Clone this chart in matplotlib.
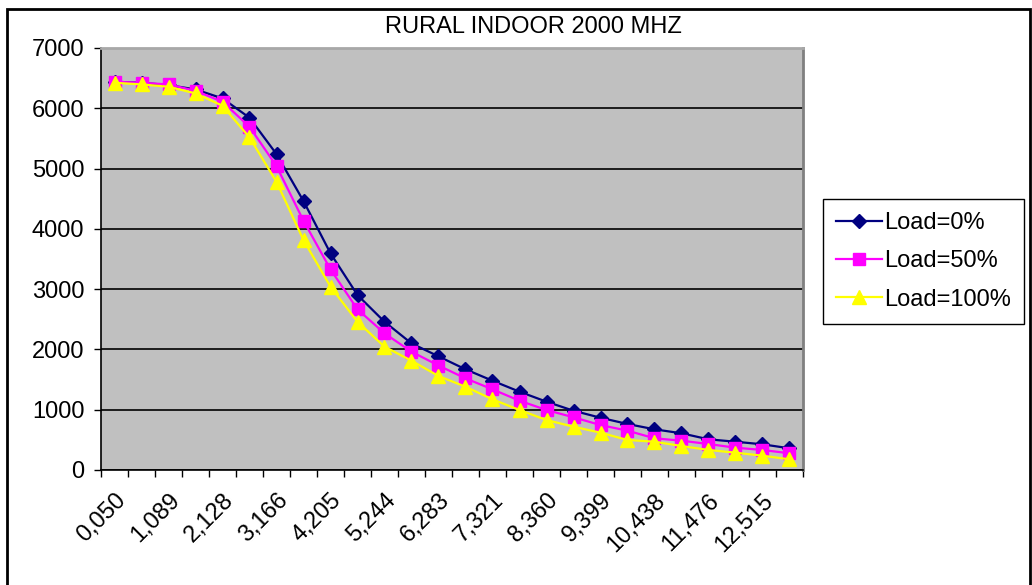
import matplotlib
matplotlib.use("Agg")
import matplotlib.pyplot as plt
from matplotlib.patches import Rectangle

plt.rcParams['font.family'] = ['Liberation Sans', 'DejaVu Sans']

categories = ["0,050", "0,569", "1,089", "1,608", "2,128", "2,647", "3,166", "3,686",
              "4,205", "4,725", "5,244", "5,763", "6,283", "6,802", "7,321", "7,841",
              "8,360", "8,880", "9,399", "9,918", "10,438", "10,957", "11,476", "11,996",
              "12,515", "13,035"]

load_0 = [6440, 6423, 6385, 6313, 6164, 5843, 5240, 4461, 3594, 2902, 2459, 2100,
          1885, 1670, 1481, 1299, 1133, 983, 867, 763, 675, 609, 509, 469, 426, 360]
load_50 = [6440, 6423, 6396, 6290, 6108, 5693, 5041, 4134, 3328, 2665, 2267, 1962,
           1733, 1520, 1338, 1149, 995, 874, 746, 652, 526, 486, 431, 370, 332, 277]
load_100 = [6423, 6396, 6357, 6247, 6042, 5517, 4781, 3814, 3040, 2459, 2045, 1813,
            1559, 1381, 1172, 995, 829, 718, 619, 498, 469, 398, 332, 287, 237, 177]

series_names = ["Load=0%", "Load=50%", "Load=100%"]
y_ticks = [0, 1000, 2000, 3000, 4000, 5000, 6000, 7000]
title = "RURAL INDOOR 2000 MHZ"

FS = 17
W, H = 1032, 585
fig = plt.figure(figsize=(W / 100, H / 100), dpi=100)
fig.patch.set_facecolor('white')

# chart area border
fig.patches.append(Rectangle((7 / W, -0.05), (1030 - 7) / W, 1 - 9 / H + 0.05,
                             transform=fig.transFigure, fill=False,
                             edgecolor='black', linewidth=2, zorder=0))

ax = fig.add_axes([101 / W, 1 - 470 / H, (803 - 101) / W, (470 - 48) / H])
ax.set_facecolor('#C0C0C0')

x = list(range(len(categories)))
ax.plot(x, load_0, color='#000080', marker='D', markersize=7.5, linewidth=1.6,
        label=series_names[0], zorder=3)
ax.plot(x, load_50, color='#FF00FF', marker='s', markersize=8, linewidth=1.6,
        label=series_names[1], zorder=4)
ax.plot(x, load_100, color='#FFFF00', marker='^', markersize=9.5, linewidth=1.6,
        label=series_names[2], zorder=5)

ax.set_xlim(-0.5, len(categories) - 0.5)
ax.set_ylim(0, 7000)
ax.set_yticks(y_ticks)
ax.set_yticklabels([str(v) for v in y_ticks])
ax.yaxis.grid(True, color='black', linewidth=1.2)
ax.set_axisbelow(True)

# category axis: tick marks at boundaries, labels every other category
ax.set_xticks([i - 0.5 for i in range(len(categories) + 1)])
ax.set_xticklabels([])
ax.set_xticks(x[::2], minor=True)
ax.set_xticklabels(categories[::2], minor=True, rotation=45, ha='right',
                   va='top', rotation_mode='anchor', fontsize=FS)
ax.tick_params(axis='x', which='minor', length=0, pad=14)
ax.tick_params(axis='x', which='major', length=5, width=1, color='black', direction='out')
ax.tick_params(axis='y', length=5, width=1, pad=7, labelsize=FS)

for s in ['left', 'bottom']:
    ax.spines[s].set_color('black')
    ax.spines[s].set_linewidth(1.2)
ax.spines['top'].set_color('#A8A8A8')
ax.spines['top'].set_linewidth(2)
ax.spines['right'].set_color('#808080')
ax.spines['right'].set_linewidth(2)

fig.text(533 / W, 1 - 27 / H, title, ha='center', va='center', fontsize=FS)

leg = ax.legend(loc='upper left', bbox_to_anchor=(823 / W, 1 - 199 / H),
                bbox_transform=fig.transFigure, fontsize=FS, frameon=True,
                fancybox=False, edgecolor='black', borderaxespad=0,
                handlelength=1.95, handletextpad=0.1, labelspacing=0.69,
                borderpad=0.55)
leg.get_frame().set_linewidth(1)
leg.get_frame().set_facecolor('white')
leg.get_frame().set_alpha(1)

fig.savefig('out.png', dpi=100)
